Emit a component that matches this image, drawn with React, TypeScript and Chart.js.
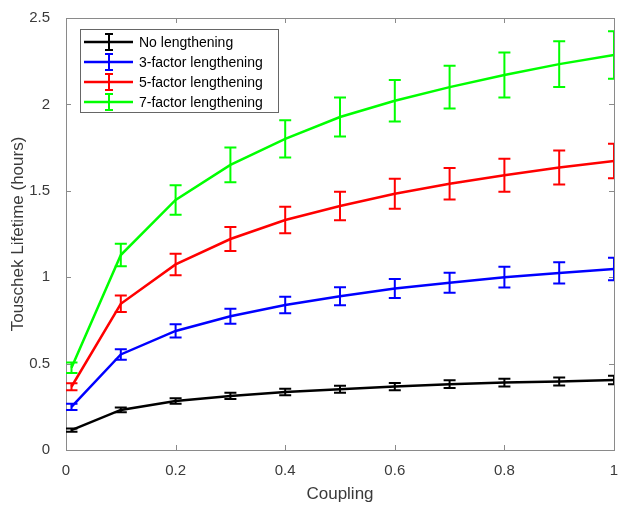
import React, { useEffect, useRef } from "react";
import { Chart, registerables } from "chart.js";

Chart.register(...registerables);

const coupling = [0.01, 0.1, 0.2, 0.3, 0.4, 0.5, 0.6, 0.7, 0.8, 0.9, 1.0];

const seriesLabels = ["No lengthening", "3-factor lengthening", "5-factor lengthening", "7-factor lengthening"];
const seriesColors = ["#000000", "#0000ff", "#ff0000", "#00ff00"];

const noLength = [0.115, 0.232, 0.284, 0.313, 0.336, 0.352, 0.367, 0.381, 0.39, 0.396, 0.405];
const noLengthErr = [0.01, 0.014, 0.016, 0.018, 0.019, 0.02, 0.021, 0.022, 0.022, 0.023, 0.024];

const factor3 = [0.25, 0.553, 0.689, 0.774, 0.839, 0.89, 0.935, 0.968, 1.0, 1.025, 1.047];
const factor3Err = [0.018, 0.03, 0.038, 0.043, 0.048, 0.052, 0.055, 0.058, 0.06, 0.062, 0.065];

const factor5 = [0.366, 0.846, 1.074, 1.221, 1.331, 1.412, 1.483, 1.541, 1.59, 1.635, 1.673];
const factor5Err = [0.02, 0.048, 0.062, 0.07, 0.077, 0.082, 0.087, 0.091, 0.095, 0.098, 0.1];

const factor7 = [0.476, 1.128, 1.447, 1.65, 1.8, 1.927, 2.021, 2.1, 2.17, 2.233, 2.286];
const factor7Err = [0.03, 0.065, 0.085, 0.1, 0.108, 0.113, 0.12, 0.124, 0.13, 0.132, 0.137];

const xTicks = [0, 0.2, 0.4, 0.6, 0.8, 1];
const xTickLabels = ["0", "0.2", "0.4", "0.6", "0.8", "1"];
const yTicks = [0, 0.5, 1, 1.5, 2, 2.5];
const yTickLabels = ["0", "0.5", "1", "1.5", "2", "2.5"];

const values = [noLength, factor3, factor5, factor7];
const errors = [noLengthErr, factor3Err, factor5Err, factor7Err];

const FONT = "'Liberation Sans', Arial, Helvetica, sans-serif";

const boxPlugin = {
  id: "matlabBox",
  beforeDatasetsDraw(chart: any) {
    const { ctx, chartArea: a, scales } = chart;
    ctx.save();
    ctx.strokeStyle = "#8a8a8a";
    ctx.lineWidth = 1;
    const tl = 5;
    ctx.beginPath();
    for (const v of xTicks) {
      const px = Math.round(scales.x.getPixelForValue(v)) + 0.5;
      ctx.moveTo(px, a.bottom);
      ctx.lineTo(px, a.bottom - tl);
      ctx.moveTo(px, a.top);
      ctx.lineTo(px, a.top + tl);
    }
    for (const v of yTicks) {
      const py = Math.round(scales.y.getPixelForValue(v)) + 0.5;
      ctx.moveTo(a.left, py);
      ctx.lineTo(a.left + tl, py);
      ctx.moveTo(a.right, py);
      ctx.lineTo(a.right - tl, py);
    }
    ctx.stroke();
    ctx.strokeRect(Math.round(a.left) + 0.5, Math.round(a.top) + 0.5, Math.round(a.right - a.left), Math.round(a.bottom - a.top));
    ctx.restore();
  },
};

const errorBarPlugin = {
  id: "errorBars",
  afterDatasetsDraw(chart: any) {
    const { ctx, chartArea: a, scales } = chart;
    ctx.save();
    ctx.beginPath();
    ctx.rect(a.left, a.top, a.right - a.left, a.bottom - a.top);
    ctx.clip();
    chart.data.datasets.forEach((ds: any, i: number) => {
      const errs = errors[i];
      ctx.strokeStyle = seriesColors[i];
      ctx.lineWidth = 2;
      ds.data.forEach((p: any, j: number) => {
        const px = scales.x.getPixelForValue(p.x);
        const y1 = scales.y.getPixelForValue(p.y - errs[j]);
        const y2 = scales.y.getPixelForValue(p.y + errs[j]);
        const cap = 6;
        ctx.beginPath();
        ctx.moveTo(px, y1);
        ctx.lineTo(px, y2);
        ctx.moveTo(px - cap, y1);
        ctx.lineTo(px + cap, y1);
        ctx.moveTo(px - cap, y2);
        ctx.lineTo(px + cap, y2);
        ctx.stroke();
      });
    });
    ctx.restore();
  },
};

const legendPlugin = {
  id: "matlabLegend",
  afterDraw(chart: any) {
    const { ctx } = chart;
    const x0 = 80, y0 = 29, w = 198, h = 83;
    ctx.save();
    ctx.fillStyle = "#ffffff";
    ctx.fillRect(x0, y0, w, h);
    ctx.strokeStyle = "#666666";
    ctx.lineWidth = 1;
    ctx.strokeRect(x0 + 0.5, y0 + 0.5, w, h);
    ctx.font = `14px ${FONT}`;
    ctx.textBaseline = "middle";
    ctx.textAlign = "left";
    seriesLabels.forEach((lab, i) => {
      const cy = 42 + i * 20;
      ctx.strokeStyle = seriesColors[i];
      ctx.lineWidth = 2.5;
      ctx.beginPath();
      ctx.moveTo(84, cy);
      ctx.lineTo(133, cy);
      ctx.stroke();
      ctx.lineWidth = 2;
      ctx.beginPath();
      ctx.moveTo(109, cy - 8);
      ctx.lineTo(109, cy + 8);
      ctx.moveTo(105, cy - 8);
      ctx.lineTo(113, cy - 8);
      ctx.moveTo(105, cy + 8);
      ctx.lineTo(113, cy + 8);
      ctx.stroke();
      ctx.fillStyle = "#000000";
      ctx.fillText(lab, 139, cy + 1);
    });
    ctx.restore();
  },
};

export default function App() {
  const ref = useRef<HTMLCanvasElement | null>(null);
  useEffect(() => {
    document.body.style.margin = "0";
    if (!ref.current) return;
    const chart = new Chart(ref.current, {
      type: "line",
      data: {
        datasets: values.map((vals, i) => ({
          label: seriesLabels[i],
          data: vals.map((v, j) => ({ x: coupling[j], y: v })),
          borderColor: seriesColors[i],
          backgroundColor: seriesColors[i],
          borderWidth: 2.5,
          pointRadius: 0,
          tension: 0,
          fill: false,
        })),
      },
      options: {
        animation: false,
        responsive: false,
        maintainAspectRatio: false,
        layout: { autoPadding: false, padding: { top: 18, right: 4, left: 0, bottom: 0 } },
        plugins: { legend: { display: false }, tooltip: { enabled: false } },
        scales: {
          x: {
            type: "linear",
            min: 0,
            max: 1,
            afterBuildTicks: (s: any) => { s.ticks = xTicks.map((v) => ({ value: v })); },
            afterFit: (s: any) => { s.height = 55; s.paddingLeft = 0; s.paddingRight = 0; },
            grid: { display: false },
            border: { display: false },
            ticks: {
              color: "#3a3a3a",
              font: { size: 15, family: FONT },
              padding: 4,
              maxRotation: 0,
              callback: (_v: any, idx: number) => xTickLabels[idx],
            },
            title: { display: true, text: "Coupling", color: "#3a3a3a", font: { size: 17, family: FONT }, padding: { top: 2, bottom: 0 } },
          },
          y: {
            type: "linear",
            min: 0,
            max: 2.5,
            afterBuildTicks: (s: any) => { s.ticks = yTicks.map((v) => ({ value: v })); },
            afterFit: (s: any) => { s.width = 66; s.paddingTop = 0; s.paddingBottom = 0; },
            grid: { display: false },
            border: { display: false },
            ticks: {
              color: "#3a3a3a",
              font: { size: 15, family: FONT },
              padding: 8,
              callback: (_v: any, idx: number) => yTickLabels[idx],
            },
            title: { display: true, text: "Touschek Lifetime (hours)", color: "#3a3a3a", font: { size: 17, family: FONT }, padding: { top: 8, bottom: 4 } },
          },
        },
      },
      plugins: [boxPlugin, errorBarPlugin, legendPlugin],
    } as any);
    return () => chart.destroy();
  }, []);
  return (
    <div style={{ position: "relative", width: 618, height: 505 }}>
      <canvas ref={ref} width={618} height={505} style={{ display: "block" }} />
    </div>
  );
}
